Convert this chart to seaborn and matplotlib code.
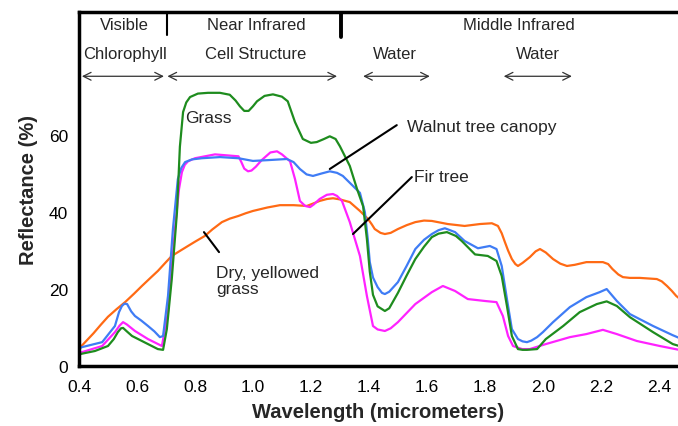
import numpy as np
import pandas as pd
import matplotlib
matplotlib.use("Agg")
import matplotlib.pyplot as plt
import seaborn as sns

# spectral reflectance curves
grass_wl = [0.40, 0.402, 0.41, 0.455, 0.50, 0.52, 0.534, 0.545, 0.552, 0.565, 0.583, 0.617, 0.672,
            0.69, 0.703, 0.72, 0.738, 0.748, 0.759, 0.77, 0.783, 0.81, 0.845, 0.886, 0.92, 0.94,
            0.955, 0.97, 0.985, 1.0, 1.014, 1.04, 1.069, 1.10, 1.12, 1.145, 1.172, 1.20, 1.22,
            1.245, 1.265, 1.285, 1.30, 1.334, 1.359, 1.38, 1.393, 1.403, 1.414, 1.43, 1.455, 1.47,
            1.50, 1.53, 1.56, 1.59, 1.617, 1.64, 1.669, 1.70, 1.72, 1.766, 1.81, 1.84, 1.858,
            1.876, 1.893, 1.914, 1.93, 1.945, 1.98, 2.01, 2.07, 2.127, 2.186, 2.22, 2.255, 2.30,
            2.38, 2.448, 2.47]
grass_r = [0, 3, 3.2, 3.9, 5.2, 7, 8.8, 9.8, 9.9, 9, 7.8, 6.5, 4.4,
           4.2, 9.6, 22.6, 40, 57, 66, 68.5, 69.9, 70.8, 71, 71, 70.5, 69,
           67.5, 66.3, 66.3, 67.5, 68.8, 70.2, 70.6, 70, 68.8, 63.4, 59, 58, 58.2,
           59, 59.7, 59, 57.1, 52, 46, 41.5, 33, 24.5, 18.5, 15.5, 14.3, 15,
           19, 23.5, 27.8, 31, 33.5, 34.4, 34.8, 33.8, 32.5, 29, 28.6, 27.3, 23.4,
           15.6, 7.8, 4.4, 4.2, 4.2, 4.4, 7, 10.4, 14, 16.1, 16.8, 15.6, 12.7,
           8.8, 5.7, 5.2]

walnut_wl = [0.40, 0.41, 0.48, 0.524, 0.538, 0.548, 0.557, 0.566, 0.58, 0.593, 0.615, 0.638, 0.66,
             0.679, 0.69, 0.707, 0.724, 0.741, 0.753, 0.766, 0.79, 0.824, 0.886, 0.95, 1.0, 1.05,
             1.117, 1.14, 1.162, 1.185, 1.207, 1.235, 1.265, 1.29, 1.31, 1.345, 1.369, 1.386, 1.396,
             1.403, 1.414, 1.43, 1.445, 1.455, 1.47, 1.50, 1.53, 1.56, 1.59, 1.617, 1.64, 1.662,
             1.697, 1.73, 1.776, 1.817, 1.84, 1.858, 1.876, 1.893, 1.914, 1.93, 1.945, 1.96, 1.98,
             2.0, 2.035, 2.093, 2.15, 2.196, 2.22, 2.255, 2.30, 2.38, 2.448, 2.47]
walnut_r = [4.5, 4.9, 6.2, 10.4, 14, 15.6, 16.2, 16.1, 14.2, 13, 11.8, 10.4, 9,
            7.5, 7.8, 18.2, 35.6, 48.6, 51.5, 53, 53.7, 54, 54.3, 54, 53.3, 53.5,
            53.8, 53, 51.2, 49.8, 49.4, 50, 50.6, 50.2, 49.4, 46.8, 45, 40, 33,
            27, 23, 20.5, 19, 18.7, 19.3, 21.8, 26, 30.4, 32.8, 34.3, 35.3, 35.8,
            34.8, 32.5, 30.6, 31.2, 30.4, 26, 17.4, 9.6, 7, 6.4, 6.2, 6.6, 7.5,
            8.8, 11.4, 15.3, 17.9, 19.2, 20, 16.9, 13.5, 10.4, 8, 7.3]

fir_wl = [0.40, 0.41, 0.48, 0.524, 0.54, 0.552, 0.565, 0.593, 0.638, 0.686, 0.707, 0.731, 0.745,
          0.755, 0.765, 0.776, 0.80, 0.869, 0.95, 0.96, 0.97, 0.983, 0.995, 1.01, 1.03, 1.06,
          1.083, 1.10, 1.128, 1.145, 1.162, 1.18, 1.197, 1.21, 1.23, 1.255, 1.276, 1.29, 1.307,
          1.334, 1.369, 1.393, 1.414, 1.43, 1.455, 1.475, 1.50, 1.56, 1.617, 1.655, 1.697, 1.741,
          1.80, 1.84, 1.862, 1.88, 1.897, 1.928, 1.955, 2.01, 2.093, 2.15, 2.207, 2.255, 2.324,
          2.403, 2.47]
fir_r = [3.2, 3.6, 5.2, 8.8, 10.5, 11.4, 10.8, 9.1, 7, 5.2, 14, 35.6, 46,
         50.4, 52.3, 53.2, 54, 55, 54.5, 53, 51.3, 50.6, 50.8, 51.8, 53.5, 55.5,
         55.8, 55, 53.2, 48.6, 42.9, 41.6, 41.3, 42, 43.4, 44.5, 44.7, 44.2, 42.9,
         37.4, 28.6, 18.2, 10.4, 9.5, 9.1, 9.8, 11.4, 16.1, 19.2, 20.8, 19.5, 17.4,
         16.9, 16.6, 13, 7.8, 5.2, 4.4, 4.4, 5.7, 7.5, 8.3, 9.4, 8.3, 6.5,
         5.2, 4.2]

dry_wl = [0.40, 0.425, 0.45, 0.475, 0.50, 0.53, 0.559, 0.59, 0.617, 0.645, 0.672, 0.70, 0.72,
          0.75, 0.776, 0.80, 0.834, 0.86, 0.893, 0.92, 0.95, 0.975, 1.0, 1.05, 1.093, 1.14,
          1.186, 1.21, 1.23, 1.255, 1.276, 1.30, 1.334, 1.369, 1.397, 1.41, 1.42, 1.44, 1.455,
          1.475, 1.50, 1.53, 1.56, 1.59, 1.617, 1.672, 1.73, 1.783, 1.824, 1.845, 1.858, 1.869,
          1.88, 1.893, 1.905, 1.914, 1.93, 1.955, 1.975, 1.99, 2.01, 2.035, 2.06, 2.083, 2.11,
          2.15, 2.207, 2.225, 2.24, 2.26, 2.276, 2.30, 2.334, 2.393, 2.41, 2.428, 2.445, 2.46,
          2.47]
dry_r = [4.5, 6.5, 8.5, 10.7, 12.8, 14.8, 16.6, 18.8, 20.8, 22.8, 24.7, 27, 28.6,
         30, 31.2, 32.3, 33.8, 35.5, 37.4, 38.3, 39, 39.7, 40.3, 41.2, 41.8, 41.8,
         41.6, 42.3, 42.9, 43.4, 43.6, 43.3, 42.6, 40.3, 38.2, 36.8, 35.6, 34.6, 34.3,
         34.6, 35.6, 36.6, 37.4, 37.8, 37.7, 36.9, 36.4, 36.9, 37.1, 36.4, 34.5, 32.2,
         30, 27.8, 26.5, 26, 26.8, 28.3, 29.8, 30.4, 29.5, 27.8, 26.6, 26, 26.3,
         27, 27, 26.5, 25.2, 23.8, 23.1, 22.9, 22.9, 22.6, 22, 20.8, 19.5, 18.2,
         17.6]

xticks = [0.4, 0.6, 0.8, 1.0, 1.2, 1.4, 1.6, 1.8, 2.0, 2.2, 2.4]
yticks = [0, 20, 40, 60]

df = pd.concat([
    pd.DataFrame({"wl": dry_wl, "r": dry_r, "surface": "dry"}),
    pd.DataFrame({"wl": fir_wl, "r": fir_r, "surface": "fir"}),
    pd.DataFrame({"wl": walnut_wl, "r": walnut_r, "surface": "walnut"}),
    pd.DataFrame({"wl": grass_wl, "r": grass_r, "surface": "grass"}),
])
palette = {"grass": "#1e8c1e", "walnut": "#3f7cf5", "fir": "#ff22ff", "dry": "#ff6a14"}

sns.set_style("white")
plt.rcParams["font.family"] = ["Liberation Sans", "DejaVu Sans"]

fig = plt.figure(figsize=(6.78, 4.27), dpi=100)
ax = fig.add_axes([0.1165, 0.1405, 0.8835, 0.829])
sns.lineplot(data=df, x="wl", y="r", hue="surface", palette=palette, estimator=None,
             legend=False, linewidth=1.6, ax=ax)

ax.set_xlim(0.4, 2.466)
ax.set_ylim(0, 92)
ax.set_xticks(xticks)
ax.set_xticklabels([f"{t:.1f}" for t in xticks])
ax.set_yticks(yticks)
ax.tick_params(direction="in", length=5, width=1.5, labelsize=12.5, colors="black")
ax.tick_params(axis="x", pad=9)
ax.tick_params(axis="y", pad=8)
for side in ["left", "bottom", "top"]:
    ax.spines[side].set_linewidth(2.5)
    ax.spines[side].set_color("black")
ax.spines["right"].set_visible(False)
ax.set_xlabel("Wavelength (micrometers)", fontsize=14.5, fontweight="bold", labelpad=6)
ax.set_ylabel("Reflectance (%)", fontsize=14.5, fontweight="bold", labelpad=8)

# header: spectral regions
ax.axvline(0.703, ymin=86 / 92, ymax=1, color="black", lw=1.5)
ax.axvline(1.303, ymin=85.5 / 92, ymax=1, color="black", lw=2.8)
for x, label in [(0.555, "Visible"), (1.01, "Near Infrared"), (1.917, "Middle Infrared")]:
    ax.text(x, 88.8, label, ha="center", va="center", fontsize=12)
for x, label in [(0.559, "Chlorophyll"), (1.01, "Cell Structure"), (1.49, "Water"), (1.983, "Water")]:
    ax.text(x, 81.3, label, ha="center", va="center", fontsize=12)
for x0, x1 in [(0.41, 0.693), (0.705, 1.29), (1.38, 1.61), (1.865, 2.10)]:
    ax.annotate("", xy=(x1, 75.3), xytext=(x0, 75.3),
                arrowprops=dict(arrowstyle="<->", lw=0.9, color="#333333",
                                shrinkA=0, shrinkB=0, mutation_scale=14))

# curve labels
ax.text(0.766, 64.7, "Grass", ha="left", va="center", fontsize=12.5)
ax.plot([1.265, 1.496], [51.2, 62.6], color="black", lw=1.5)
ax.text(1.531, 62.2, "Walnut tree canopy", ha="left", va="center", fontsize=12.5)
ax.plot([1.345, 1.548], [34.3, 49.1], color="black", lw=1.5)
ax.text(1.555, 49.2, "Fir tree", ha="left", va="center", fontsize=12.5)
ax.plot([0.831, 0.883], [34.8, 29.6], color="black", lw=1.5)
ax.text(0.872, 22.3, "Dry, yellowed\ngrass", ha="left", va="center", fontsize=12.5, linespacing=1.05)

fig.savefig("out.png", dpi=100)
